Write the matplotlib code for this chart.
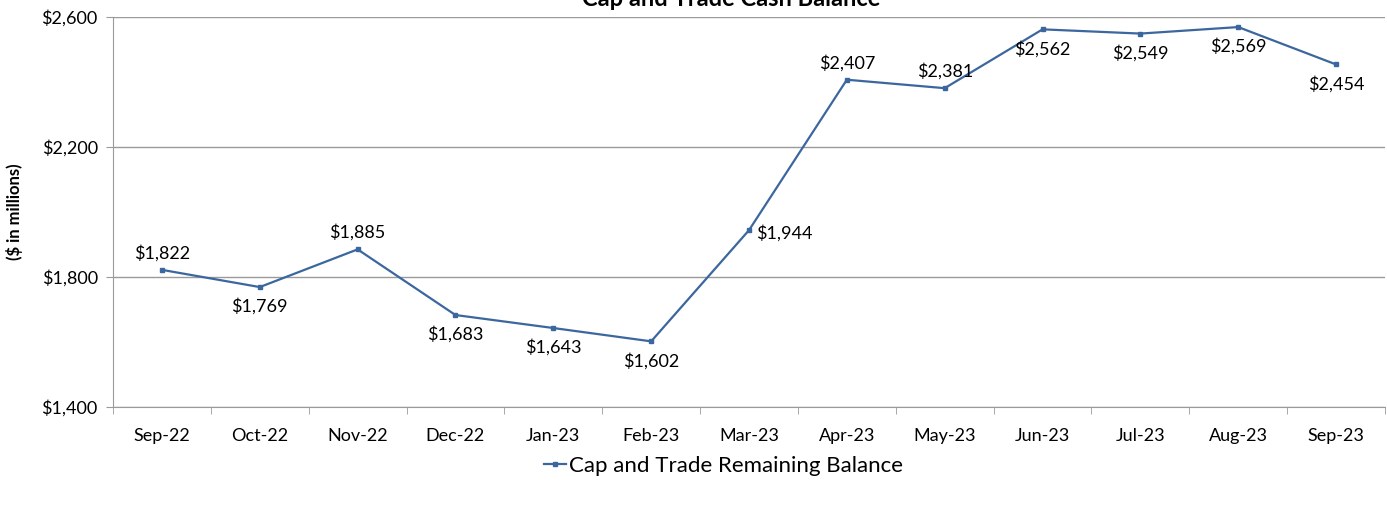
import numpy as np
import matplotlib.pyplot as plt

months = ['Sep-22', 'Oct-22', 'Nov-22', 'Dec-22', 'Jan-23', 'Feb-23', 'Mar-23',
          'Apr-23', 'May-23', 'Jun-23', 'Jul-23', 'Aug-23', 'Sep-23']
balance = [1822, 1769, 1885, 1683, 1643, 1602, 1944, 2407, 2381, 2562, 2549, 2569, 2454]
# where each data label sits relative to its point
label_pos = ['above', 'below', 'above', 'below', 'below', 'below', 'right',
             'above', 'above', 'below', 'below', 'below', 'below']

plt.rcParams['font.family'] = ['Lato', 'DejaVu Sans']

fig = plt.figure(figsize=(13.87, 5.05), dpi=100)
ax = fig.add_axes([113 / 1387, 1 - 407 / 505, (1385 - 113) / 1387, (407 - 17) / 505])

x = np.arange(len(months))
col = '#3C679E'
ax.plot(x, balance, color=col, lw=1.6, marker='s', ms=3.5, label='Cap and Trade Remaining Balance')

for xi, v, p in zip(x, balance, label_pos):
    txt = '${:,}'.format(v)
    if p == 'above':
        ax.annotate(txt, (xi, v), xytext=(0, 6), textcoords='offset points',
                    ha='center', va='bottom', fontsize=13)
    elif p == 'below':
        ax.annotate(txt, (xi, v), xytext=(0, -8), textcoords='offset points',
                    ha='center', va='top', fontsize=13)
    else:
        ax.annotate(txt, (xi, v), xytext=(5, -2), textcoords='offset points',
                    ha='left', va='center', fontsize=13)

ax.set_xlim(-0.5, len(months) - 0.5)
ax.set_ylim(1400, 2600)
ax.set_yticks([1400, 1800, 2200, 2600])
ax.set_yticklabels(['${:,}'.format(t) for t in [1400, 1800, 2200, 2600]], fontsize=13)
ax.set_xticks(x)
ax.set_xticklabels(months, fontsize=13)
ax.set_xticks(np.arange(-0.5, len(months)), minor=True)
ax.tick_params(axis='x', which='major', length=0, pad=15)
ax.tick_params(axis='x', which='minor', length=5, color='#9a9a9a')
ax.tick_params(axis='y', length=5, color='#9a9a9a', pad=6)
ax.grid(axis='y', color='#9a9a9a', lw=1)
ax.set_axisbelow(True)
for s in ['top', 'right']:
    ax.spines[s].set_visible(False)
for s in ['left', 'bottom']:
    ax.spines[s].set_color('#9a9a9a')

fig.text(15 / 1387, 1 - 212 / 505, '($ in millions)', rotation=90, fontsize=12,
         fontweight='bold', ha='center', va='center')
fig.text(0.527, 1 + 2 / 505, 'Cap and Trade Cash Balance', fontsize=17,
         fontweight='bold', ha='center', va='center')

fig.legend(loc='center', bbox_to_anchor=(0.5215, 1 - 466 / 505), frameon=False,
           fontsize=16, handlelength=1.0, handletextpad=0.1)

fig.savefig('out.png', dpi=100)
